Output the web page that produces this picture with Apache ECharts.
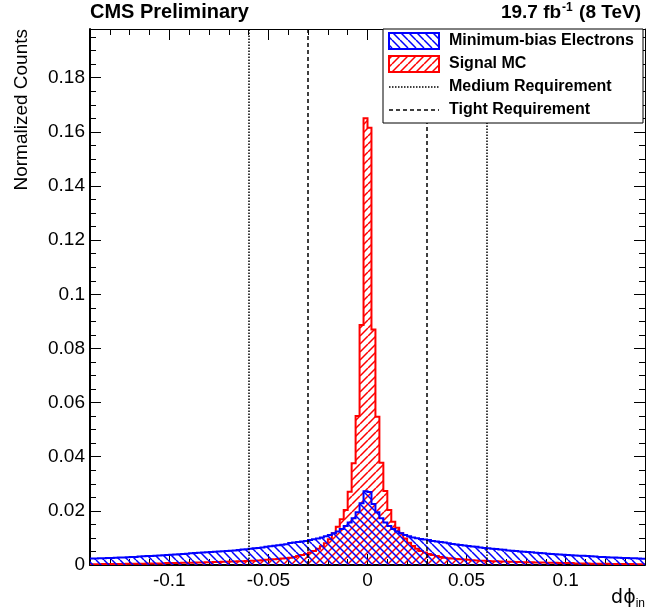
<!DOCTYPE html>
<html><head><meta charset="utf-8">
<script src="https://cdn.jsdelivr.net/npm/echarts@6/dist/echarts.min.js"></script>
<style>html,body{margin:0;padding:0;background:#fff}#c{width:647px;height:616px}</style>
</head><body><div id="c"></div>
<script>
// ---- data ----
const xMin = -0.14, xMax = 0.14, binWidth = 0.002;
const yMax = 0.198;
const xMajorTicks = [-0.1, -0.05, 0, 0.05, 0.1];
const yMajorTicks = [0, 0.02, 0.04, 0.06, 0.08, 0.1, 0.12, 0.14, 0.16, 0.18];
// Minimum-bias electrons, bins from -0.14 to 0
const minBiasNeg = [
  0.0024,0.0024,0.0025,0.0025,0.0026,0.0026,0.0027,0.0028,0.0028,0.0029,
  0.0030,0.0030,0.0031,0.0032,0.0033,0.0033,0.0034,0.0035,0.0036,0.0037,
  0.0038,0.0039,0.0040,0.0041,0.0042,0.0043,0.0044,0.0045,0.0046,0.0047,
  0.0048,0.0049,0.0050,0.0051,0.0052,0.0053,0.0054,0.0055,0.0057,0.0058,
  0.0060,0.0062,0.0063,0.0065,0.0067,0.0069,0.0071,0.0073,0.0075,0.0077,
  0.0081,0.0083,0.0085,0.0087,0.0089,0.0092,0.0095,0.0098,0.0102,0.0106,
  0.0111,0.0117,0.0124,0.0133,0.0144,0.0157,0.0173,0.0195,0.0228,0.0272
];
// Minimum-bias electrons, bins from 0 to 0.14
const minBiasPos = [
  0.0270,0.0225,0.0195,0.0173,0.0157,0.0144,0.0133,0.0124,0.0117,0.0111,
  0.0106,0.0102,0.0099,0.0096,0.0094,0.0092,0.0089,0.0087,0.0085,0.0083,
  0.0080,0.0078,0.0076,0.0074,0.0072,0.0070,0.0068,0.0067,0.0065,0.0063,
  0.0062,0.0060,0.0059,0.0057,0.0056,0.0054,0.0053,0.0052,0.0050,0.0049,
  0.0048,0.0047,0.0045,0.0044,0.0043,0.0042,0.0041,0.0040,0.0039,0.0038,
  0.0037,0.0036,0.0035,0.0034,0.0034,0.0033,0.0032,0.0031,0.0030,0.0030,
  0.0029,0.0028,0.0028,0.0027,0.0026,0.0026,0.0025,0.0025,0.0024,0.0023
];
// Signal MC, bins from -0.14 to 0
const signalNeg = [
  0.0003,0.0003,0.0003,0.0004,0.0004,0.0004,0.0004,0.0004,0.0004,0.0005,
  0.0005,0.0005,0.0005,0.0005,0.0006,0.0006,0.0006,0.0006,0.0006,0.0007,
  0.0007,0.0007,0.0007,0.0008,0.0008,0.0008,0.0009,0.0009,0.0009,0.0010,
  0.0010,0.0011,0.0011,0.0012,0.0012,0.0013,0.0013,0.0014,0.0014,0.0015,
  0.0016,0.0016,0.0017,0.0018,0.0019,0.0020,0.0021,0.0022,0.0024,0.0025,
  0.0027,0.0030,0.0033,0.0037,0.0041,0.0046,0.0052,0.0060,0.0069,0.0080,
  0.0095,0.0117,0.0141,0.0169,0.0203,0.0271,0.0376,0.0550,0.0887,0.1650
];
// Signal MC, bins from 0 to 0.14
const signalPos = [
  0.1615,0.0870,0.0548,0.0378,0.0273,0.0203,0.0160,0.0138,0.0117,0.0098,
  0.0082,0.0070,0.0060,0.0052,0.0046,0.0041,0.0037,0.0033,0.0030,0.0027,
  0.0025,0.0024,0.0022,0.0021,0.0020,0.0019,0.0018,0.0017,0.0016,0.0016,
  0.0015,0.0014,0.0014,0.0013,0.0013,0.0012,0.0012,0.0011,0.0011,0.0010,
  0.0010,0.0010,0.0009,0.0009,0.0009,0.0008,0.0008,0.0008,0.0007,0.0007,
  0.0007,0.0007,0.0006,0.0006,0.0006,0.0006,0.0005,0.0005,0.0005,0.0005,
  0.0005,0.0004,0.0004,0.0004,0.0004,0.0004,0.0004,0.0003,0.0003,0.0003
];
const mediumCuts = [-0.06, 0.06];
const tightCuts = [-0.03, 0.03];
const legendLabels = ['Minimum-bias Electrons', 'Signal MC', 'Medium Requirement', 'Tight Requirement'];

const minBiasCounts = minBiasNeg.concat(minBiasPos);
const signalCounts = signalNeg.concat(signalPos);

// ---- helpers ----
function hatch(color, dir) {
  const s = 8;
  const c = document.createElement('canvas');
  c.width = s; c.height = s;
  const g = c.getContext('2d');
  g.strokeStyle = color; g.lineWidth = 1.5;
  g.beginPath();
  for (let k = -1; k <= 1; k++) {
    if (dir === '/') { g.moveTo(k * s, s); g.lineTo(k * s + s, 0); }
    else { g.moveTo(k * s, 0); g.lineTo(k * s + s, s); }
  }
  g.stroke();
  return c;
}
const BLUE = '#0000ff', RED = '#ff0000';
const bluePat = { image: hatch(BLUE, '\\'), repeat: 'repeat' };
const redPat = { image: hatch(RED, '/'), repeat: 'repeat' };
const FONT = '"Liberation Sans", Arial, Helvetica, sans-serif';

function histSeries(name, counts, color, pat, z) {
  return {
    type: 'custom', name: name, xAxisIndex: 0, yAxisIndex: 0, z: z, clip: true,
    data: [0], silent: true,
    renderItem: function (params, api) {
      const outline = [];
      counts.forEach(function (v, i) {
        const x0 = xMin + i * binWidth, x1 = xMin + (i + 1) * binWidth;
        outline.push(api.coord([x0, v]), api.coord([x1, v]));
      });
      const area = [api.coord([xMin, 0])].concat(outline, [api.coord([xMax, 0])]);
      return {
        type: 'group',
        children: [
          { type: 'polygon', shape: { points: area }, style: { fill: pat, stroke: null } },
          { type: 'polyline', shape: { points: outline }, style: { fill: null, stroke: color, lineWidth: 2 } }
        ]
      };
    }
  };
}

function xAxisDef(pos, major, labels, lineW) {
  const a = {
    type: 'value', min: xMin, max: xMax, position: pos,
    splitLine: { show: false },
    axisLine: { show: lineW > 0, onZero: false, lineStyle: { color: '#000', width: lineW } },
    axisTick: { inside: true, length: major ? 11 : 6, lineStyle: { color: '#000', width: 1 } },
    axisLabel: { show: false }
  };
  if (major) {
    a.axisTick.customValues = xMajorTicks;
    if (labels) a.axisLabel = { show: true, customValues: xMajorTicks, fontSize: 19, fontFamily: FONT, color: '#000', margin: 6 };
  } else {
    a.interval = 0.01;
  }
  return a;
}
function yAxisDef(pos, major, labels, lineW) {
  const a = {
    type: 'value', min: 0, max: yMax, position: pos,
    splitLine: { show: false },
    axisLine: { show: lineW > 0, onZero: false, lineStyle: { color: '#000', width: lineW } },
    axisTick: { inside: true, length: major ? 11 : 6, lineStyle: { color: '#000', width: 1 } },
    axisLabel: { show: false }
  };
  if (major) {
    a.axisTick.customValues = yMajorTicks;
    if (labels) a.axisLabel = { show: true, customValues: yMajorTicks, fontSize: 19, fontFamily: FONT, color: '#000', margin: 5 };
  } else {
    a.interval = 0.005;
  }
  return a;
}

const chart = echarts.init(document.getElementById('c'), null, { renderer: 'canvas' });

const lx = 389, lw = 50, textX = 449, rowY = [41, 64, 87, 110];

chart.setOption({
  animation: false,
  backgroundColor: '#fff',
  grid: { left: 90, right: 2, top: 29, bottom: 51, containLabel: false },
  xAxis: [
    xAxisDef('bottom', false, false, 2),
    xAxisDef('bottom', true, true, 0),
    xAxisDef('top', false, false, 1),
    xAxisDef('top', true, false, 0)
  ],
  yAxis: [
    yAxisDef('left', false, false, 2),
    yAxisDef('left', true, true, 0),
    yAxisDef('right', false, false, 1),
    yAxisDef('right', true, false, 0)
  ],
  series: [
    histSeries(legendLabels[1], signalCounts, RED, redPat, 2),
    histSeries(legendLabels[0], minBiasCounts, BLUE, bluePat, 3),
    {
      type: 'line', data: [], xAxisIndex: 0, yAxisIndex: 0, z: 4,
      markLine: {
        silent: true, symbol: 'none', label: { show: false }, animation: false,
        data: mediumCuts.map(v => ({ xAxis: v, lineStyle: { color: '#000', width: 1.5, type: [1.5, 1.5] } }))
          .concat(tightCuts.map(v => ({ xAxis: v, lineStyle: { color: '#000', width: 1.5, type: [4, 3] } })))
      }
    }
  ],
  graphic: [
    { type: 'text', x: 90, y: 22, z: 100, style: { text: 'CMS Preliminary', font: 'bold 20px ' + FONT, fill: '#000', verticalAlign: 'bottom' } },
    { type: 'text', x: 641, y: 22, z: 100, style: {
        text: '{a|19.7 fb}{s|-1}{a| (8 TeV)}', align: 'right', verticalAlign: 'bottom',
        rich: { a: { font: 'bold 19px ' + FONT, fill: '#000', verticalAlign: 'bottom' }, s: { font: 'bold 12px ' + FONT, fill: '#000', verticalAlign: 'top', padding: [0, 1, 8, 1] } }
      } },
    { type: 'text', x: 22, y: 29, rotation: Math.PI / 2, z: 100, style: { text: 'Normalized Counts', font: '19px ' + FONT, fill: '#000', align: 'right', verticalAlign: 'middle' } },
    { type: 'text', x: 645, y: 610, z: 100, style: {
        text: '{a|d\u03d5}{s|in}', align: 'right', verticalAlign: 'bottom',
        rich: { a: { font: '19px "DejaVu Sans", ' + FONT, fill: '#000' }, s: { font: '12px ' + FONT, fill: '#000', padding: [12, 0, 0, 0] } }
      } },
    // legend box
    { type: 'rect', z: 100, shape: { x: 383, y: 29, width: 260, height: 94 }, style: { fill: '#fff', stroke: '#000', lineWidth: 1 } },
    { type: 'rect', z: 101, shape: { x: lx, y: rowY[0] - 8, width: lw, height: 16 }, style: { fill: bluePat, stroke: BLUE, lineWidth: 2 } },
    { type: 'rect', z: 101, shape: { x: lx, y: rowY[1] - 8, width: lw, height: 16 }, style: { fill: redPat, stroke: RED, lineWidth: 2 } },
    { type: 'line', z: 101, shape: { x1: lx, y1: rowY[2], x2: lx + lw, y2: rowY[2] }, style: { stroke: '#000', lineWidth: 1.5, lineDash: [1.5, 1.5] } },
    { type: 'line', z: 101, shape: { x1: lx, y1: rowY[3], x2: lx + lw, y2: rowY[3] }, style: { stroke: '#000', lineWidth: 1.5, lineDash: [4, 3] } }
  ].concat(legendLabels.map((t, i) => ({
    type: 'text', z: 101, x: textX, y: rowY[i],
    style: { text: t, font: 'bold 16px ' + FONT, fill: '#000', verticalAlign: 'middle' }
  })))
});
</script>
</body></html>
